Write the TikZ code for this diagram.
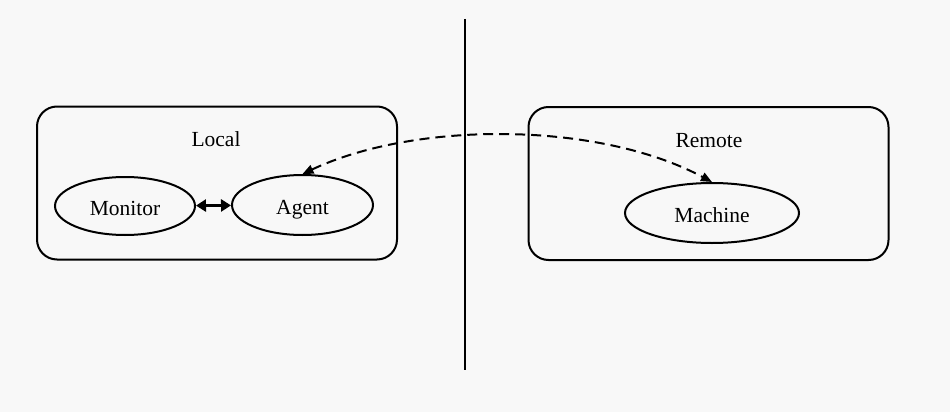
\documentclass[tikz,border=0pt]{standalone}
\usepackage{fontspec}
\setmainfont{Liberation Serif}
\usetikzlibrary{arrows.meta,shapes.geometric}
\definecolor{bgcol}{RGB}{248,248,248}

\begin{document}
\begin{tikzpicture}[x=1pt,y=-1pt]
\tikzset{
  groupbox/.style={draw,rounded corners=20pt,line width=2pt,minimum width=360pt,minimum height=153pt,inner sep=0pt},
  procnode/.style={ellipse,draw,line width=2pt,inner sep=0pt,text height=19pt,text depth=0pt,font=\fontsize{21.5}{25}\selectfont},
  grouplabel/.style={font=\fontsize{21.5}{25}\selectfont},
  biarrow/.style={{Triangle[length=10pt,width=12pt]}-{Triangle[length=10pt,width=12pt]},line width=2.6pt},
  dashlink/.style={{Triangle[length=11pt,width=9pt]}-{Triangle[length=11pt,width=9pt]},line width=2pt,dash pattern=on 10pt off 6pt}
}
\fill[bgcol] (0,0) rectangle (950,412);
\useasboundingbox (0,0) rectangle (950,412);
% boxes
\node[groupbox] (n_local) at (217,183) {};
\node[groupbox] (n_remote) at (708.5,183.5) {};
\node[grouplabel] (n_locallbl) at (216,139) {Local};
\node[grouplabel] (n_remotelbl) at (709,141) {Remote};
% processes
\node[procnode,minimum width=140pt,minimum height=58pt] (n_monitor) at (125,206) {Monitor};
\node[procnode,minimum width=141pt,minimum height=60pt] (n_agent) at (302.5,205) {Agent};
\node[procnode,minimum width=174pt,minimum height=60pt] (n_machine) at (712,213) {Machine};
% divider
\coordinate (n_top) at (465,19);
\coordinate (n_bottom) at (465,370);
\draw[line width=2.8pt] (n_top) -- (n_bottom);
% links
\draw[biarrow] (n_monitor) -- (n_agent);
\draw[dashlink] (n_agent.north) .. controls (415,121) and (598,121) .. (n_machine.north);
\end{tikzpicture}
\end{document}
